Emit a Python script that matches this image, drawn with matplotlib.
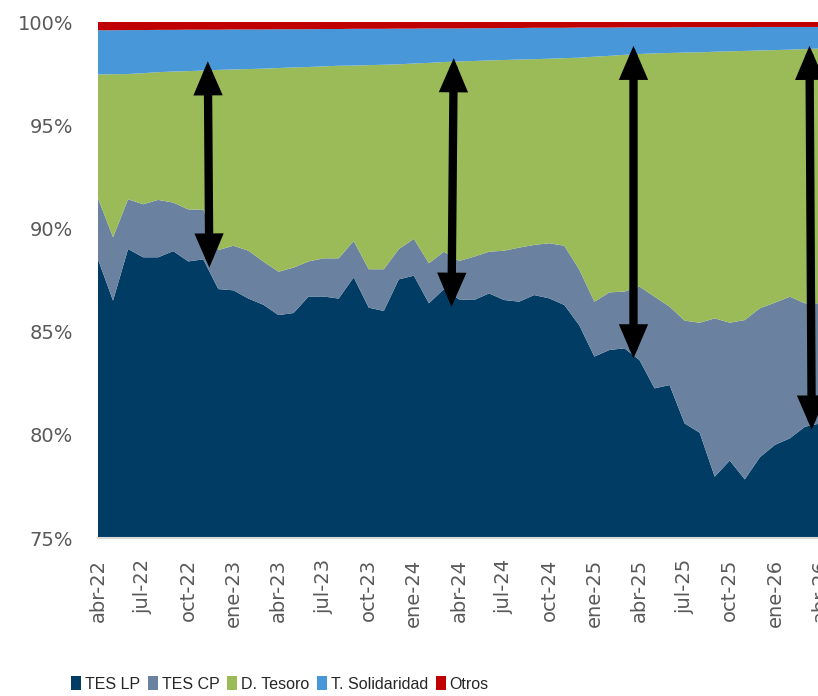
import matplotlib
matplotlib.use("Agg")
import matplotlib.pyplot as plt
import numpy as np

# ---- data (shares of total, %) ----
months = ['abr-22', 'may-22', 'jun-22', 'jul-22', 'ago-22', 'sep-22', 'oct-22', 'nov-22', 'dic-22',
          'ene-23', 'feb-23', 'mar-23', 'abr-23', 'may-23', 'jun-23', 'jul-23', 'ago-23', 'sep-23',
          'oct-23', 'nov-23', 'dic-23', 'ene-24', 'feb-24', 'mar-24', 'abr-24', 'may-24', 'jun-24',
          'jul-24', 'ago-24', 'sep-24', 'oct-24', 'nov-24', 'dic-24', 'ene-25', 'feb-25', 'mar-25',
          'abr-25', 'may-25', 'jun-25', 'jul-25', 'ago-25', 'sep-25', 'oct-25', 'nov-25', 'dic-25',
          'ene-26', 'feb-26', 'mar-26', 'abr-26']

tes_lp = [88.50, 86.50, 89.00, 88.60, 88.60, 88.90, 88.40, 88.50, 87.06, 87.00,
          86.60, 86.30, 85.80, 85.90, 86.70, 86.70, 86.60, 87.63, 86.16, 86.00,
          87.53, 87.71, 86.37, 87.06, 86.56, 86.53, 86.85, 86.53, 86.45, 86.77,
          86.61, 86.29, 85.30, 83.79, 84.11, 84.19, 83.62, 82.25, 82.41, 80.55,
          80.10, 77.97, 78.75, 77.84, 78.91, 79.51, 79.83, 80.39, 80.55]

tes_cp = [2.96, 3.07, 2.41, 2.57, 2.78, 2.35, 2.52, 2.41, 1.89, 2.16,
          2.32, 2.09, 2.10, 2.20, 1.70, 1.85, 1.95, 1.76, 1.86, 2.02,
          1.47, 1.78, 1.94, 1.81, 1.86, 2.10, 2.02, 2.39, 2.62, 2.43,
          2.67, 2.87, 2.70, 2.66, 2.79, 2.75, 3.56, 4.44, 3.80, 4.98,
          5.33, 7.67, 6.68, 7.72, 7.22, 6.89, 6.86, 5.98, 5.82]

d_tesoro = [6.00, 7.90, 6.07, 6.35, 6.19, 6.35, 6.70, 6.74, 8.73, 8.54,
            8.80, 9.35, 9.87, 9.70, 9.42, 9.30, 9.33, 8.50, 9.89, 9.91,
            8.95, 8.50, 9.71, 9.19, 9.67, 9.48, 9.27, 9.24, 9.11, 9.00,
            8.94, 9.09, 10.27, 11.87, 11.46, 11.47, 11.27, 11.79, 12.29, 12.99,
            13.10, 12.92, 13.15, 13.04, 12.49, 12.24, 11.97, 12.32, 12.34]

t_solidaridad = [2.14, 2.13, 2.13, 2.09, 2.05, 2.02, 2.01, 1.98, 1.95, 1.94,
                 1.92, 1.90, 1.88, 1.85, 1.83, 1.81, 1.78, 1.78, 1.76, 1.74,
                 1.73, 1.69, 1.67, 1.63, 1.60, 1.59, 1.56, 1.55, 1.53, 1.52,
                 1.50, 1.47, 1.46, 1.41, 1.37, 1.33, 1.29, 1.26, 1.24, 1.23,
                 1.22, 1.19, 1.17, 1.15, 1.14, 1.12, 1.10, 1.07, 1.05]

otros = [0.40, 0.40, 0.39, 0.39, 0.38, 0.38, 0.37, 0.37, 0.37, 0.36,
         0.36, 0.36, 0.35, 0.35, 0.35, 0.34, 0.34, 0.33, 0.33, 0.33,
         0.32, 0.32, 0.31, 0.31, 0.31, 0.30, 0.30, 0.29, 0.29, 0.28,
         0.28, 0.28, 0.27, 0.27, 0.27, 0.26, 0.26, 0.26, 0.26, 0.25,
         0.25, 0.25, 0.25, 0.25, 0.24, 0.24, 0.24, 0.24, 0.24]

series_names = ['TES LP', 'TES CP', 'D. Tesoro', 'T. Solidaridad', 'Otros']
colors = ['#003C64', '#6A829F', '#9BBB59', '#4897D8', '#C00000']

# arrows: (start month index, start %, end month index, end %)
arrows = [(7.3, 98.1, 7.4, 88.1),
          (23.65, 98.25, 23.5, 86.2),
          (35.6, 98.85, 35.6, 83.7),
          (47.3, 98.85, 47.45, 80.25)]

tick_labels = ['abr-22', 'jul-22', 'oct-22', 'ene-23', 'abr-23', 'jul-23', 'oct-23', 'ene-24',
               'abr-24', 'jul-24', 'oct-24', 'ene-25', 'abr-25', 'jul-25', 'oct-25', 'ene-26', 'abr-26']

# ---- plot ----
fig = plt.figure(figsize=(8.18, 6.96), dpi=100)
ax = fig.add_axes([98 / 818, 158 / 696, 722 / 818, 516 / 696])

x = np.arange(len(months))
ax.stackplot(x, tes_lp, tes_cp, d_tesoro, t_solidaridad, otros,
             colors=colors, labels=series_names, linewidth=0, zorder=2)

ax.set_xlim(0, len(months) - 1)
ax.set_ylim(75, 100)
ax.set_yticks([75, 80, 85, 90, 95, 100])
ax.set_yticklabels([f'{v}%' for v in [75, 80, 85, 90, 95, 100]])
ax.set_xticks(np.arange(0, len(months), 3))
ax.set_xticklabels(tick_labels, rotation=90)
ax.tick_params(axis='both', length=0, labelsize=14, labelcolor='#595959')
ax.tick_params(axis='x', pad=15)
ax.tick_params(axis='y', pad=18)

for s in ['top', 'right', 'left']:
    ax.spines[s].set_visible(False)
ax.spines['bottom'].set_color('#D9D9D9')
ax.spines['bottom'].set_linewidth(1.5)
ax.spines['bottom'].set_zorder(5)

for x0, y0, x1, y1 in arrows:
    ax.annotate('', xy=(x0, y0), xytext=(x1, y1),
                arrowprops=dict(arrowstyle='<|-|>,head_length=0.7,head_width=0.3',
                                color='black', lw=6, shrinkA=0, shrinkB=0,
                                mutation_scale=20, joinstyle='miter'),
                zorder=6)

handles, labels = ax.get_legend_handles_labels()
leg = fig.legend(handles, labels, loc='center', bbox_to_anchor=(280 / 818, 1 - 684 / 696),
                 ncol=5, frameon=False, handlelength=0.6, handleheight=1.0,
                 handletextpad=0.25, columnspacing=0.5,
                 prop={'family': ['Liberation Sans', 'DejaVu Sans'], 'size': 11.5})
for t in leg.get_texts():
    t.set_color('#262626')

fig.savefig('out.png', dpi=100)
